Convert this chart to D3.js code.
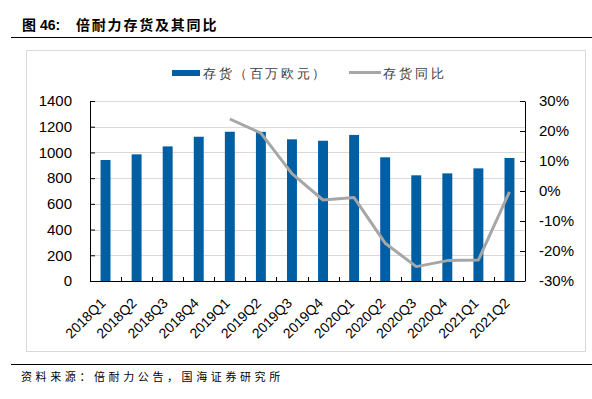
<!DOCTYPE html>
<html lang="zh">
<head>
<meta charset="utf-8">
<title>倍耐力存货及其同比</title>
<script src="https://cdn.jsdelivr.net/npm/d3@7"></script>
<style>
  body { margin: 0; background: #fff; }
  text { font-family: "Liberation Sans", Arial, sans-serif; }
  .cjk { font-family: "Noto Sans CJK SC", sans-serif; white-space: pre; }
</style>
</head>
<body>
<div id="chart"></div>
<script>
// data
var quarters = ['2018Q1','2018Q2','2018Q3','2018Q4','2019Q1','2019Q2','2019Q3',
                '2019Q4','2020Q1','2020Q2','2020Q3','2020Q4','2021Q1','2021Q2'];
var inventory = [941, 985, 1047, 1122, 1161, 1160, 1102, 1091, 1136, 962, 822, 837, 876, 957];
var yoy = [null, null, null, null, 24.0, 19.3, 5.8, -3.0, -2.2, -17.4, -25.2, -23.2, -23.0, -0.3];
var leftTicks = [0, 200, 400, 600, 800, 1000, 1200, 1400];
var rightTicks = [-30, -20, -10, 0, 10, 20, 30];

var W = 592, H = 399;
var plot = {left: 90, right: 525, top: 101, bottom: 281};

var svg = d3.select('#chart').append('svg').attr('width', W).attr('height', H);
svg.append('rect').attr('width', W).attr('height', H).attr('fill', '#fff');

// title + rules
var title = svg.append('text').attr('x', 22).attr('y', 30)
  .attr('font-size', 14).attr('font-weight', 'bold').attr('fill', '#000');
title.append('tspan').attr('class', 'cjk').text('图');
title.append('tspan').attr('x', 40).text('46:');
title.append('tspan').attr('x', 76).attr('class', 'cjk').attr('letter-spacing', 1.8)
  .text('倍耐力存货及其同比');
svg.append('line').attr('x1', 11).attr('x2', 592).attr('y1', 37.5).attr('y2', 37.5)
  .attr('stroke', '#000').attr('stroke-width', 1);
svg.append('line').attr('x1', 11).attr('x2', 592).attr('y1', 364.5).attr('y2', 364.5)
  .attr('stroke', '#000').attr('stroke-width', 1);
svg.append('text').attr('x', 21).attr('y', 381).attr('class', 'cjk')
  .attr('font-size', 11).attr('letter-spacing', 3.6).attr('fill', '#000')
  .text('资料来源：倍耐力公告，国海证券研究所');

// chart frame
svg.append('rect').attr('x', 26.5).attr('y', 50.5).attr('width', 559).attr('height', 301)
  .attr('fill', 'none').attr('stroke', '#d9d9d9');

var x = d3.scaleBand().domain(quarters).range([plot.left, plot.right]).paddingInner(0.68).paddingOuter(0.34);
var xc = d3.scaleBand().domain(quarters).range([plot.left, plot.right]);
var yL = d3.scaleLinear().domain([0, 1400]).range([plot.bottom, plot.top]);
var yR = d3.scaleLinear().domain([-30, 30]).range([plot.bottom, plot.top]);

// gridlines
svg.append('g').selectAll('line').data(leftTicks.slice(1)).enter().append('line')
  .attr('x1', plot.left).attr('x2', plot.right)
  .attr('y1', function(d) { return Math.round(yL(d)) + 0.5; })
  .attr('y2', function(d) { return Math.round(yL(d)) + 0.5; })
  .attr('stroke', '#d9d9d9');

// bars
svg.append('g').selectAll('rect').data(inventory).enter().append('rect')
  .attr('x', function(d, i) { return x(quarters[i]); })
  .attr('width', x.bandwidth())
  .attr('y', function(d) { return yL(d); })
  .attr('height', function(d) { return yL(0) - yL(d); })
  .attr('fill', '#005ea2');

// axes
var axL = svg.append('g').attr('transform', 'translate(' + plot.left + ',0)')
  .call(d3.axisLeft(yL).tickValues(leftTicks).tickSizeInner(-5).tickSizeOuter(0).tickPadding(18)
    .tickFormat(d3.format('d')));
var axR = svg.append('g').attr('transform', 'translate(' + plot.right + ',0)')
  .call(d3.axisRight(yR).tickValues(rightTicks).tickSizeInner(-5).tickSizeOuter(0).tickPadding(14)
    .tickFormat(function(d) { return d + '%'; }));
[axL, axR].forEach(function(a) {
  a.select('.domain').attr('stroke', '#000');
  a.selectAll('.tick line').attr('stroke', '#000');
  a.selectAll('text').attr('font-size', 15).attr('fill', '#000')
    .attr('font-family', '"Liberation Sans", Arial, sans-serif');
});

var axB = svg.append('g').attr('transform', 'translate(0,' + plot.bottom + ')');
axB.append('line').attr('x1', plot.left).attr('x2', plot.right).attr('y1', 0.5).attr('y2', 0.5).attr('stroke', '#000');
axB.selectAll('.tk').data(quarters.slice(1)).enter().append('line')
  .attr('x1', function(d) { return Math.round(xc(d)) + 0.5; })
  .attr('x2', function(d) { return Math.round(xc(d)) + 0.5; })
  .attr('y1', 0).attr('y2', -4).attr('stroke', '#000');
axB.selectAll('text').data(quarters).enter().append('text')
  .attr('transform', function(d) {
    return 'translate(' + (xc(d) + xc.bandwidth() / 2 + 1) + ',23) rotate(-45)';
  })
  .attr('text-anchor', 'end').attr('font-size', 14).attr('fill', '#000')
  .text(function(d) { return d; });

// yoy line
var line = d3.line()
  .defined(function(d) { return d != null; })
  .x(function(d, i) { return xc(quarters[i]) + xc.bandwidth() / 2; })
  .y(function(d) { return yR(d); });
svg.append('path').datum(yoy).attr('d', line)
  .attr('fill', 'none').attr('stroke', '#a6a6a6').attr('stroke-width', 3)
  .attr('stroke-linejoin', 'round');

// legend
var lg = svg.append('g').attr('class', 'cjk');
lg.append('rect').attr('x', 172).attr('y', 70).attr('width', 28).attr('height', 6).attr('fill', '#005ea2');
lg.append('text').attr('x', 203).attr('y', 78).attr('font-size', 13).attr('fill', '#404040')
  .attr('letter-spacing', 2.6).text('存货（百万欧元）');
lg.append('line').attr('x1', 349).attr('x2', 381).attr('y1', 72.5).attr('y2', 72.5)
  .attr('stroke', '#a6a6a6').attr('stroke-width', 3);
lg.append('text').attr('x', 383).attr('y', 78).attr('font-size', 13).attr('fill', '#404040')
  .attr('letter-spacing', 3).text('存货同比');
</script>
</body>
</html>
